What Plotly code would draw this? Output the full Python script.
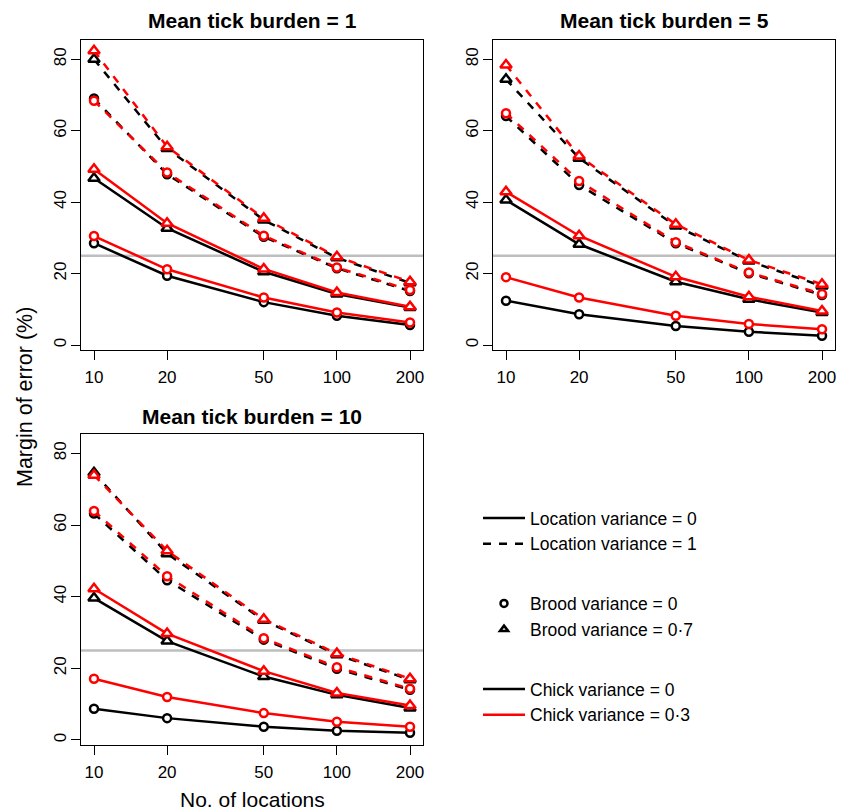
import plotly.graph_objects as go

# no. of locations (x axis)
locations = [10, 20, 50, 100, 200]
tick_labels = ["10", "20", "50", "100", "200"]
y_ticks = [0, 20, 40, 60, 80]

# naming: m<burden>_L<location var>_B<brood var>_C<chick var>
# mean tick burden = 1
m1_L0_B0_C0 = [28.5, 19.4, 12.0, 8.2, 5.6]
m1_L0_B0_C3 = [30.5, 21.2, 13.3, 9.1, 6.3]
m1_L0_B7_C0 = [46.7, 32.7, 20.5, 14.3, 10.5]
m1_L0_B7_C3 = [49.2, 34.1, 21.3, 14.7, 10.7]
m1_L1_B0_C0 = [69.0, 47.8, 30.3, 21.5, 15.1]
m1_L1_B0_C3 = [68.4, 48.3, 30.6, 21.7, 15.4]
m1_L1_B7_C0 = [80.0, 55.0, 35.0, 24.4, 17.4]
m1_L1_B7_C3 = [82.4, 55.5, 35.5, 24.7, 17.7]

# mean tick burden = 5
m5_L0_B0_C0 = [12.4, 8.6, 5.3, 3.7, 2.6]
m5_L0_B0_C3 = [19.0, 13.3, 8.2, 5.9, 4.4]
m5_L0_B7_C0 = [40.6, 28.2, 17.7, 12.8, 9.1]
m5_L0_B7_C3 = [42.9, 30.6, 19.1, 13.5, 9.5]
m5_L1_B0_C0 = [64.1, 44.8, 28.5, 20.1, 14.0]
m5_L1_B0_C3 = [64.9, 45.9, 28.8, 20.3, 14.3]
m5_L1_B7_C0 = [74.4, 52.3, 33.3, 23.5, 16.5]
m5_L1_B7_C3 = [78.4, 52.9, 33.8, 23.8, 17.0]

# mean tick burden = 10
m10_L0_B0_C0 = [8.7, 6.1, 3.7, 2.6, 2.0]
m10_L0_B0_C3 = [17.1, 12.0, 7.5, 5.1, 3.7]
m10_L0_B7_C0 = [39.6, 27.6, 17.7, 12.6, 8.9]
m10_L0_B7_C3 = [42.2, 29.7, 19.2, 13.1, 9.6]
m10_L1_B0_C0 = [63.2, 44.6, 28.0, 19.9, 14.0]
m10_L1_B0_C3 = [63.9, 45.7, 28.4, 20.3, 14.3]
m10_L1_B7_C0 = [74.6, 52.0, 33.4, 23.8, 16.8]
m10_L1_B7_C3 = [73.9, 52.8, 33.7, 24.1, 17.1]

threshold = 25

FONT = "Liberation Sans, Arial, Helvetica, sans-serif"
W, H = 842, 812

panels = [
    ("x", "y",
     [m1_L0_B0_C0, m1_L0_B7_C0, m1_L1_B0_C0, m1_L1_B7_C0,
      m1_L0_B0_C3, m1_L0_B7_C3, m1_L1_B0_C3, m1_L1_B7_C3]),
    ("x2", "y2",
     [m5_L0_B0_C0, m5_L0_B7_C0, m5_L1_B0_C0, m5_L1_B7_C0,
      m5_L0_B0_C3, m5_L0_B7_C3, m5_L1_B0_C3, m5_L1_B7_C3]),
    ("x3", "y3",
     [m10_L0_B0_C0, m10_L0_B7_C0, m10_L1_B0_C0, m10_L1_B7_C0,
      m10_L0_B0_C3, m10_L0_B7_C3, m10_L1_B0_C3, m10_L1_B7_C3]),
]
# style of the 8 series in each panel, same order as above
DASH = "8px,8px"
styles = [
    ("black", "solid", "circle"), ("black", "solid", "triangle-up"),
    ("black", DASH, "circle"), ("black", DASH, "triangle-up"),
    ("red", "solid", "circle"), ("red", "solid", "triangle-up"),
    ("red", DASH, "circle"), ("red", DASH, "triangle-up"),
]

fig = go.Figure()

for xa, ya, series in panels:
    for vals, (col, dash, sym) in zip(series, styles):
        fig.add_trace(go.Scatter(
            x=locations, y=vals, xaxis=xa, yaxis=ya, mode="lines+markers",
            line=dict(color=col, width=2.5, dash=dash),
            marker=dict(symbol=sym, size=8 if sym == "circle" else 10,
                        color="white", line=dict(color=col, width=2.5)),
            showlegend=False, hoverinfo="skip"))
    fig.add_shape(type="line", xref=xa + " domain", yref=ya, x0=0, x1=1,
                  y0=threshold, y1=threshold, layer="below",
                  line=dict(color="#BEBEBE", width=2.5))

# legend entries (dummy traces)
legend_items = [
    ("Location variance = 0", "g1", "lines", "black", "solid", None),
    ("Location variance = 1", "g1", "lines", "black", DASH, None),
    ("Brood variance = 0", "g2", "markers", "black", "solid", "circle"),
    ("Brood variance = 0·7", "g2", "markers", "black", "solid", "triangle-up"),
    ("Chick variance = 0", "g3", "lines", "black", "solid", None),
    ("Chick variance = 0·3", "g3", "lines", "red", "solid", None),
]
for name, grp, mode, col, dash, sym in legend_items:
    fig.add_trace(go.Scatter(
        x=[None], y=[None], xaxis="x3", yaxis="y3", mode=mode, name=name,
        legendgroup=grp,
        line=dict(color=col, width=2.5, dash=dash),
        marker=dict(symbol=sym or "circle", size=7, color="white",
                    line=dict(color=col, width=2.5)),
        showlegend=True))

x_dom = {"x": [81 / W, 423 / W], "x2": [493 / W, 835 / W], "x3": [81 / W, 423 / W]}
y_dom = {"y": [1 - 350 / H, 1 - 40 / H], "y2": [1 - 350 / H, 1 - 40 / H],
         "y3": [1 - 745 / H, 1 - 434 / H]}

axis_common = dict(showline=True, mirror=True, linecolor="black", linewidth=1,
                   ticks="outside", ticklen=9, tickwidth=1, tickcolor="black",
                   showgrid=False, zeroline=False,
                   tickfont=dict(family=FONT, size=17, color="black"))

layout = dict(
    width=W, height=H, margin=dict(l=0, r=0, t=0, b=0),
    paper_bgcolor="white", plot_bgcolor="white",
    font=dict(family=FONT, color="black"),
    showlegend=True,
    legend=dict(x=478 / W, y=1 - 500 / H, xanchor="left", yanchor="top",
                traceorder="grouped", tracegroupgap=34,
                font=dict(family=FONT, size=17.5, color="black"),
                bgcolor="rgba(0,0,0,0)", itemwidth=42),
)
for xa, ya in [("x", "y"), ("x2", "y2"), ("x3", "y3")]:
    xk = "xaxis" if xa == "x" else "xaxis" + xa[1:]
    yk = "yaxis" if ya == "y" else "yaxis" + ya[1:]
    layout[xk] = dict(axis_common, type="log", domain=x_dom[xa], anchor=ya,
                      range=[0.9465, 2.3545], tickvals=locations,
                      ticktext=tick_labels, ticklabelstandoff=3)
    layout[yk] = dict(axis_common, domain=y_dom[ya], anchor=xa,
                      range=[-1.4, 85.4], tickvals=y_ticks, tickangle=-90,
                      ticklabelstandoff=-2)

fig.update_layout(**layout)

annots = [
    ("<b>Mean tick burden = 1</b>", 252, 21, 0, 21),
    ("<b>Mean tick burden = 5</b>", 664, 21, 0, 21),
    ("<b>Mean tick burden = 10</b>", 252, 416, 0, 21),
    ("Margin of error (%)", 25, 397, -90, 21.5),
    ("No. of locations", 252, 799, 0, 21),
]
for text, px_x, px_y, ang, size in annots:
    fig.add_annotation(text=text, x=px_x / W, y=1 - px_y / H, xref="paper",
                       yref="paper", showarrow=False, textangle=ang,
                       xanchor="center", yanchor="middle",
                       font=dict(family=FONT, size=size, color="black"))

fig.write_html("out.html", config={"displayModeBar": False},
               post_script="document.body.style.margin='0';")
